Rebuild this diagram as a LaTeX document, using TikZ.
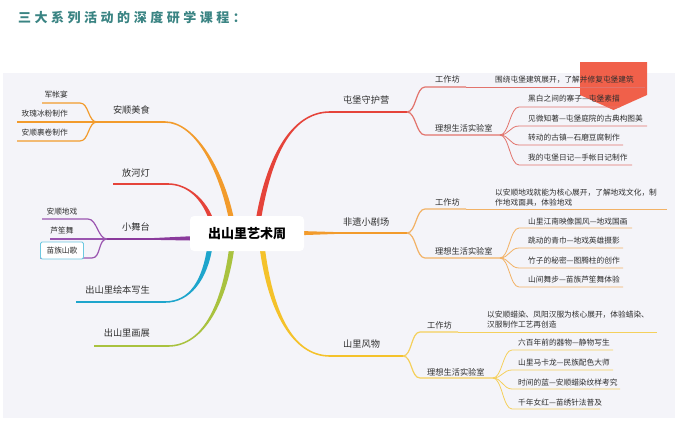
\documentclass[tikz,border=0pt]{standalone}
\usepackage{fontspec}
\setmainfont{Noto Sans CJK SC}
\newfontfamily\titlefont[LetterSpace=27]{Noto Sans CJK SC}
\usetikzlibrary{calc}
\definecolor{panel}{HTML}{F4F4F9}
\definecolor{titlecol}{HTML}{3A8483}
\definecolor{txt}{HTML}{2E2E2E}
\definecolor{cred}{HTML}{E5433A}
\definecolor{credl}{HTML}{E2736C}
\definecolor{corg}{HTML}{F29B2C}
\definecolor{corgl}{HTML}{F2B266}
\definecolor{cpur}{HTML}{8A3A9C}
\definecolor{cpurl}{HTML}{9A55B0}
\definecolor{cblu}{HTML}{1EA5CC}
\definecolor{cgrn}{HTML}{A9C23F}
\definecolor{cyel}{HTML}{F4C22B}
\definecolor{cyell}{HTML}{F4D05C}
\definecolor{banner}{HTML}{F0604A}
\definecolor{boxcy}{HTML}{6CC8E0}
\newcommand\taperbranch[7]{%
 \fill[#1] ($(#2)+(#6)$) .. controls ($(#3)+(#6)$) and ($(#4)+(#7)$) .. ($(#5)+(#7)$) -- ($(#5)-(#7)$) .. controls ($(#4)-(#7)$) and ($(#3)-(#6)$) .. ($(#2)-(#6)$) -- cycle;}
\newcommand\rsub[4]{%
 \draw[#1] (#2) .. controls ($(#2)+(9,0)$) and ($(#3)+(-9,0)$) .. (#3) -- (#4);}
\newcommand\lsub[4]{%
 \draw[#1] (#2) .. controls ($(#2)+(-9,0)$) and ($(#3)+(9,0)$) .. (#3) -- (#4);}
\tikzset{
 mainlbl/.style={font=\fontsize{9.2}{11}\selectfont, text=txt, inner sep=0},
 sublbl/.style={font=\fontsize{8.2}{10}\selectfont, text=txt, inner sep=0},
 itemlbl/.style={font=\fontsize{7.7}{9.5}\selectfont, text=txt, inner sep=0},
 desclbl/.style={font=\fontsize{7.7}{10}\selectfont, text=txt, inner sep=0, align=left},
 thinline/.style={line width=0.8pt},
 subline/.style={line width=1.2pt},
}
\begin{document}
\begin{tikzpicture}[x=1pt,y=-1pt]
\useasboundingbox (0,0) rectangle (678,421);
\fill[white] (0,0) rectangle (678,421);
\fill[panel] (3,73) rectangle (675,418);
\node[anchor=west, text=titlecol, inner sep=0] (title) at (18,17.5) {\titlefont\bfseries\fontsize{13}{15}\selectfont 三大系列活动的深度研学课程：};

% red banner
\fill[banner] (580,62) -- (647,62) -- (647,95) -- (613.5,110) -- (580,95) -- cycle;

% ---------- left: 安顺美食 ----------
\coordinate (amS) at (232,222);
\coordinate (amE) at (165,122);
\coordinate (amF) at (97,122);
\taperbranch{corg}{amS}{222,170}{195,122}{amE}{-2.6,0}{0,0.8}
\draw[corg, line width=1.6pt] (amE) -- (amF);
\coordinate (am1a) at (80,103); \coordinate (am1b) at (42,103);
\coordinate (am2b) at (17,122);
\coordinate (am3a) at (80,141); \coordinate (am3b) at (17,141);
\lsub{corg, subline}{amF}{am1a}{am1b}
\draw[corg, subline] (amF) -- (am2b);
\lsub{corg, subline}{amF}{am3a}{am3b}
\node[mainlbl, anchor=east] (am) at (150,110) {安顺美食};
\node[itemlbl, anchor=east] (am1) at (68,95) {军帐宴};
\node[itemlbl, anchor=east] (am2) at (68,113.5) {玫瑰冰粉制作};
\node[itemlbl, anchor=east] (am3) at (68,133) {安顺裹卷制作};

% ---------- left: 放河灯 ----------
\coordinate (fhS) at (212,222);
\coordinate (fhE) at (168,184);
\coordinate (fhF) at (113,184);
\taperbranch{cred}{fhS}{205,200}{188,184}{fhE}{-2.3,0}{0,0.8}
\draw[cred, line width=1.6pt] (fhE) -- (fhF);
\node[mainlbl, anchor=east] (fh) at (150,173) {放河灯};

% ---------- left: 小舞台 ----------
\coordinate (xwF) at (107,239);
\coordinate (xwE) at (150,239);
\fill[cpur] (196,236) -- (150,238.2) -- (150,239.8) -- (196,240.6) -- cycle;
\draw[cpur, line width=1.5pt] (xwE) -- (xwF);
\coordinate (xw1a) at (88,219); \coordinate (xw1b) at (42,219);
\coordinate (xw2b) at (50,239);
\coordinate (xw3a) at (92,258); \coordinate (xw3b) at (40,258);
\lsub{cpurl, subline}{xwF}{xw1a}{xw1b}
\draw[cpurl, subline] (xwF) -- (xw2b);
\lsub{cpurl, subline}{xwF}{xw3a}{xw3b}
\node[mainlbl, anchor=east] (xw) at (150,227) {小舞台};
\node[itemlbl] (xw1) at (62,212) {安顺地戏};
\node[itemlbl] (xw2) at (62,231) {芦笙舞};
\node[itemlbl, draw=boxcy, line width=0.9pt, fill=white, rounded corners=1.5pt, minimum width=43pt, minimum height=17pt] (xw3) at (62,250.5) {苗族山歌};

% ---------- left: 出山里绘本写生 ----------
\coordinate (hbS) at (210,246);
\coordinate (hbE) at (165,302);
\coordinate (hbF) at (76,302);
\taperbranch{cblu}{hbS}{205,280}{190,302}{hbE}{2.6,0}{0,0.8}
\draw[cblu, line width=1.6pt] (hbE) -- (hbF);
\node[mainlbl, anchor=east] (hb) at (150,290) {出山里绘本写生};

% ---------- left: 出山里画展 ----------
\coordinate (hzS) at (232,246);
\coordinate (hzE) at (168,346);
\coordinate (hzF) at (94,346);
\taperbranch{cgrn}{hzS}{225,300}{205,346}{hzE}{2.6,0}{0,0.8}
\draw[cgrn, line width=1.6pt] (hzE) -- (hzF);
\node[mainlbl, anchor=east] (hz) at (150,333) {出山里画展};

% ---------- right: 屯堡守护营 ----------
\coordinate (tbS) at (258,222);
\coordinate (tbE) at (330,112);
\coordinate (tbF) at (407,112);
\taperbranch{cred}{tbS}{268,160}{290,112}{tbE}{-2.6,0}{0,-0.8}
\draw[cred, line width=1.6pt] (tbE) -- (tbF);
\coordinate (tbw1) at (425,87); \coordinate (tbw2) at (466,87); \coordinate (tbw3) at (645,87);
\coordinate (tbl1) at (425,135); \coordinate (tbl2) at (500,135);
\rsub{credl, subline}{tbF}{tbw1}{tbw2}
\draw[credl, thinline] (tbw2) -- (tbw3);
\rsub{credl, subline}{tbF}{tbl1}{tbl2}
\rsub{credl, thinline}{tbl2}{519,107}{620,107}
\rsub{credl, thinline}{tbl2}{519,126}{647,126}
\rsub{credl, thinline}{tbl2}{519,145}{623,145}
\rsub{credl, thinline}{tbl2}{519,165}{632,165}
\node[mainlbl, anchor=west] (tb) at (343,100) {屯堡守护营};
\node[sublbl, anchor=west] (tbw) at (435,79) {工作坊};
\node[desclbl, anchor=west] (tbd) at (495,79.5) {围绕屯堡建筑展开，了解并修复屯堡建筑};
\node[sublbl, anchor=west] (tbl) at (435,128) {理想生活实验室};
\node[itemlbl, anchor=west] (tb1) at (528,99) {黑白之间的寨子—屯堡素描};
\node[itemlbl, anchor=west] (tb2) at (528,118.5) {见微知著—屯堡庭院的古典构图美};
\node[itemlbl, anchor=west] (tb3) at (528,138) {转动的古镇—石磨豆腐制作};
\node[itemlbl, anchor=west] (tb4) at (528,157.5) {我的屯堡日记—手帐日记制作};

% ---------- right: 非遗小剧场 ----------
\coordinate (fyS) at (300,233);
\coordinate (fyE) at (340,233);
\coordinate (fyF) at (407,233);
\fill[corg] (300,231) -- (340,232.2) -- (340,233.8) -- (300,235.2) -- cycle;
\draw[corg, line width=1.5pt] (fyE) -- (fyF);
\coordinate (fyw1) at (425,209); \coordinate (fyw2) at (466,209); \coordinate (fyw3) at (667,209);
\coordinate (fyl1) at (425,258); \coordinate (fyl2) at (500,258);
\rsub{corgl, subline}{fyF}{fyw1}{fyw2}
\draw[corgl, thinline] (fyw2) -- (fyw3);
\rsub{corgl, subline}{fyF}{fyl1}{fyl2}
\rsub{corgl, thinline}{fyl2}{519,228}{632,228}
\rsub{corgl, thinline}{fyl2}{519,248}{623,248}
\rsub{corgl, thinline}{fyl2}{519,268}{623,268}
\rsub{corgl, thinline}{fyl2}{519,287}{623,287}
\node[mainlbl, anchor=west] (fy) at (343,222) {非遗小剧场};
\node[sublbl, anchor=west] (fyw) at (435,202) {工作坊};
\node[desclbl, anchor=west] (fyd) at (495,198) {以安顺地戏就能为核心展开，了解地戏文化，制\\作地戏面具，体验地戏};
\node[sublbl, anchor=west] (fyl) at (435,251) {理想生活实验室};
\node[itemlbl, anchor=west] (fy1) at (528,221.5) {山里江南映像国风—地戏国画};
\node[itemlbl, anchor=west] (fy2) at (528,241) {跳动的青巾—地戏英雄摄影};
\node[itemlbl, anchor=west] (fy3) at (528,260.5) {竹子的秘密—图腾柱的创作};
\node[itemlbl, anchor=west] (fy4) at (528,280) {山间舞步—苗族芦笙舞体验};

% ---------- right: 山里风物 ----------
\coordinate (swS) at (262,246);
\coordinate (swE) at (330,356);
\coordinate (swF) at (403,356);
\taperbranch{cyel}{swS}{270,310}{292,356}{swE}{2.6,0}{0,-0.8}
\draw[cyel, line width=1.6pt] (swE) -- (swF);
\coordinate (sww1) at (420,332); \coordinate (sww2) at (458,332); \coordinate (sww3) at (657,332);
\coordinate (swl1) at (420,378); \coordinate (swl2) at (493,378);
\rsub{cyell, subline}{swF}{sww1}{sww2}
\draw[cyell, thinline] (sww2) -- (sww3);
\rsub{cyell, subline}{swF}{swl1}{swl2}
\rsub{cyell, thinline}{swl2}{512,350}{613,350}
\rsub{cyell, thinline}{swl2}{512,370}{613,370}
\rsub{cyell, thinline}{swl2}{512,389}{620,389}
\rsub{cyell, thinline}{swl2}{512,409}{600,409}
\node[mainlbl, anchor=west] (sw) at (343,344) {山里风物};
\node[sublbl, anchor=west] (sww) at (427,325) {工作坊};
\node[desclbl, anchor=west] (swd) at (487,319.5) {以安顺蜡染、凤阳汉服为核心展开，体验蜡染、\\汉服制作工艺再创造};
\node[sublbl, anchor=west] (swl) at (427,372) {理想生活实验室};
\node[itemlbl, anchor=west] (sw1) at (518,343) {六百年前的器物—静物写生};
\node[itemlbl, anchor=west] (sw2) at (518,363) {山里马卡龙—民族配色大师};
\node[itemlbl, anchor=west] (sw3) at (518,382.5) {时间的蓝—安顺蜡染纹样考究};
\node[itemlbl, anchor=west] (sw4) at (518,402.5) {千年女红—苗绣针法普及};

% ---------- center ----------
\node[fill=white, rounded corners=4pt, minimum width=114pt, minimum height=35pt, inner sep=0, text=black, font=\fontsize{13}{15}\selectfont\bfseries] (center) at (247,233.5) {出山里艺术周};
\end{tikzpicture}
\end{document}
